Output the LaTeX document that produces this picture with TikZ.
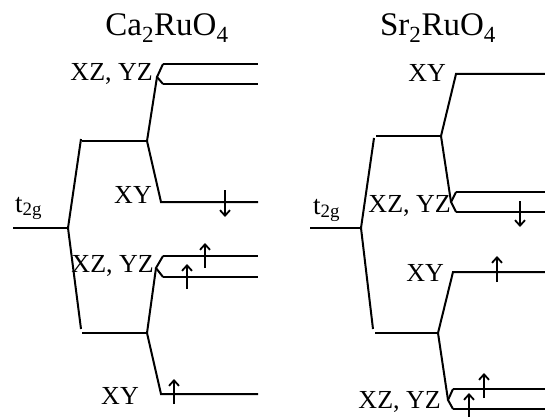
\documentclass[tikz,border=0pt]{standalone}
\usepackage{fontspec}
\setmainfont{Liberation Serif}
\usetikzlibrary{arrows.meta}
\begin{document}
\begin{tikzpicture}[x=1pt,y=-1pt,
  lvl/.style={line width=2pt},
  spin/.style={line width=2pt,-{Straight Barb[length=5.5pt,width=10pt,line width=1.8pt]}},
  lab/.style={inner sep=0pt,font=\fontsize{26}{28}\selectfont},
  tlab/.style={inner sep=0pt,font=\fontsize{27}{29}\selectfont},
  ttl/.style={inner sep=0pt,font=\fontsize{33}{36}\selectfont}]
\useasboundingbox (0,0) rectangle (545,417);
% ---------- left: Ca2RuO4 ----------
\node[ttl,anchor=base] (tL) at (167,36) {Ca\textsubscript{2}RuO\textsubscript{4}};
\coordinate (La0) at (13,228);
\coordinate (La) at (68,228);
\coordinate (Lu) at (81,139);
\coordinate (Lus) at (82,141);
\coordinate (Luv) at (147,141);
\coordinate (Lf1) at (157,77);
\coordinate (Lf1a) at (163,64);
\coordinate (Lf1ae) at (258,64);
\coordinate (Lf1b) at (163,84);
\coordinate (Lf1be) at (258,84);
\coordinate (Lxy1) at (161,202);
\coordinate (Lxy1e) at (258,202);
\coordinate (Ld) at (81,329);
\coordinate (Lds) at (82,333);
\coordinate (Ldv) at (147,333);
\coordinate (Lf2) at (156,268);
\coordinate (Lf2a) at (163,256);
\coordinate (Lf2ae) at (258,256);
\coordinate (Lf2b) at (163,277);
\coordinate (Lf2be) at (258,277);
\coordinate (Lxy2) at (161,394);
\coordinate (Lxy2e) at (258,394);
\draw[lvl] (La0) -- (La);
\draw[lvl] (La) -- (Lu);
\draw[lvl] (Lus) -- (Luv);
\draw[lvl] (Luv) -- (Lf1);
\draw[lvl] (Lf1a) -- (Lf1) -- (Lf1b);
\draw[lvl] (Lf1a) -- (Lf1ae);
\draw[lvl] (Lf1b) -- (Lf1be);
\draw[lvl] (Luv) -- (Lxy1) -- (Lxy1e);
\draw[lvl] (La) -- (Ld);
\draw[lvl] (Lds) -- (Ldv);
\draw[lvl] (Ldv) -- (Lf2);
\draw[lvl] (Lf2a) -- (Lf2) -- (Lf2b);
\draw[lvl] (Lf2a) -- (Lf2ae);
\draw[lvl] (Lf2b) -- (Lf2be);
\draw[lvl] (Ldv) -- (Lxy2) -- (Lxy2e);
\node[tlab,anchor=base west] (Lt) at (15,212) {t\textsubscript{2g}};
\node[lab,anchor=base east] (Ll1) at (153,81) {XZ, YZ};
\node[lab,anchor=base east] (Ll2) at (152,203) {XY};
\node[lab,anchor=base east] (Ll3) at (154,272) {XZ, YZ};
\node[lab,anchor=base east] (Ll4) at (139,404) {XY};
\coordinate (Ls1a) at (225,190); \coordinate (Ls1b) at (225,217);
\coordinate (Ls2a) at (205,268); \coordinate (Ls2b) at (205,243);
\coordinate (Ls3a) at (187,289); \coordinate (Ls3b) at (187,264);
\coordinate (Ls4a) at (174,404); \coordinate (Ls4b) at (174,379);
\draw[spin] (Ls1a) -- (Ls1b);
\draw[spin] (Ls2a) -- (Ls2b);
\draw[spin] (Ls3a) -- (Ls3b);
\draw[spin] (Ls4a) -- (Ls4b);
% ---------- right: Sr2RuO4 ----------
\node[ttl,anchor=base] (tR) at (438,36) {Sr\textsubscript{2}RuO\textsubscript{4}};
\coordinate (Ra0) at (310,228);
\coordinate (Ra) at (361,228);
\coordinate (Ru) at (374,138);
\coordinate (Rus) at (376,136);
\coordinate (Ruv) at (441,136);
\coordinate (Rxy1) at (456,74);
\coordinate (Rxy1e) at (545,74);
\coordinate (Rf1) at (451,202);
\coordinate (Rf1a) at (456,192);
\coordinate (Rf1ae) at (545,192);
\coordinate (Rf1b) at (456,212);
\coordinate (Rf1be) at (545,212);
\coordinate (Rd) at (373,329);
\coordinate (Rds) at (375,333);
\coordinate (Rdv) at (438,333);
\coordinate (Rxy2) at (453,272);
\coordinate (Rxy2e) at (545,272);
\coordinate (Rf2) at (448,400);
\coordinate (Rf2a) at (453,389);
\coordinate (Rf2ae) at (545,389);
\coordinate (Rf2b) at (453,409);
\coordinate (Rf2be) at (545,409);
\draw[lvl] (Ra0) -- (Ra);
\draw[lvl] (Ra) -- (Ru);
\draw[lvl] (Rus) -- (Ruv);
\draw[lvl] (Ruv) -- (Rxy1) -- (Rxy1e);
\draw[lvl] (Ruv) -- (Rf1);
\draw[lvl] (Rf1a) -- (Rf1) -- (Rf1b);
\draw[lvl] (Rf1a) -- (Rf1ae);
\draw[lvl] (Rf1b) -- (Rf1be);
\draw[lvl] (Ra) -- (Rd);
\draw[lvl] (Rds) -- (Rdv);
\draw[lvl] (Rdv) -- (Rxy2) -- (Rxy2e);
\draw[lvl] (Rdv) -- (Rf2);
\draw[lvl] (Rf2a) -- (Rf2) -- (Rf2b);
\draw[lvl] (Rf2a) -- (Rf2ae);
\draw[lvl] (Rf2b) -- (Rf2be);
\node[tlab,anchor=base west] (Rt) at (313,214) {t\textsubscript{2g}};
\node[lab,anchor=base east] (Rl1) at (446,82) {XY};
\node[lab,anchor=base east] (Rl2) at (451,212) {XZ, YZ};
\node[lab,anchor=base east] (Rl3) at (444,281) {XY};
\node[lab,anchor=base east] (Rl4) at (441,408) {XZ, YZ};
\coordinate (Rs1a) at (520,201); \coordinate (Rs1b) at (520,227);
\coordinate (Rs2a) at (497,282); \coordinate (Rs2b) at (497,256);
\coordinate (Rs3a) at (484,398); \coordinate (Rs3b) at (484,373);
\coordinate (Rs4a) at (469,417); \coordinate (Rs4b) at (469,393);
\draw[spin] (Rs1a) -- (Rs1b);
\draw[spin] (Rs2a) -- (Rs2b);
\draw[spin] (Rs3a) -- (Rs3b);
\draw[spin] (Rs4a) -- (Rs4b);
\end{tikzpicture}
\end{document}
